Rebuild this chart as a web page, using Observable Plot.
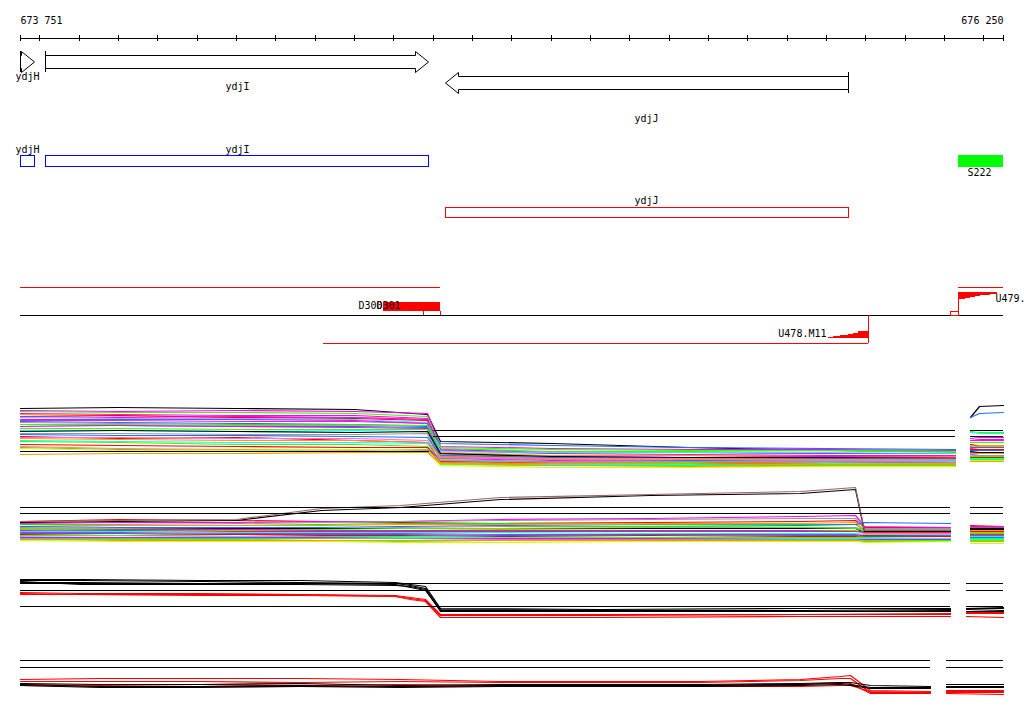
<!DOCTYPE html>
<html><head><meta charset="utf-8">
<script src="https://cdn.jsdelivr.net/npm/d3@7"></script>
<script src="https://cdn.jsdelivr.net/npm/@observablehq/plot@0.6"></script>
<style>
body{margin:0;background:#fff;}
#chart{position:relative;width:1024px;height:714px;overflow:hidden;background:#fff;}
#chart svg{position:absolute;left:0;}
</style></head><body><div id="chart"></div>
<script>
// ---------------- DATA ----------------
const regionStart = 673751, regionEnd = 676250;
const endLabels = ["673 751", "676 250"];
const tickPositions = [673751, 673800, 673900, 674000, 674100, 674200, 674300, 674400, 674500, 674600, 674700,
  674800, 674900, 675000, 675100, 675200, 675300, 675400, 675500, 675600, 675700, 675800, 675900, 676000,
  676100, 676200, 676250];

const genes = [
  {name: "ydjH", start: 673751, end: 673787, strand: "+"},
  {name: "ydjI", start: 673815, end: 674788, strand: "+"},
  {name: "ydjJ", start: 674831, end: 675856, strand: "-"}
];
const cdsBoxes = [
  {name: "ydjH", start: 673751, end: 673787, kind: "fwd"},
  {name: "ydjI", start: 673815, end: 674788, kind: "fwd"},
  {name: "ydjJ", start: 674831, end: 675856, kind: "rev"}
];
const sites = [{name: "S222", start: 676136, end: 676250}];

const transcriptFwd = [{start: 673751, end: 674819}, {start: 676136, end: 676250}];
const transcriptRev = [{start: 674521, end: 675907}];
const dRegions = [{name: "D300", start: 674610}, {name: "D301", start: 674656}];
const dBlock = {start: 674674, end: 674819};
const dTicks = [674776, 674819];
const u478 = {name: "U478.M11", tss: 675907};
const u478X = [675805, 675818, 675836, 675856, 675869, 675881, 675907];
const u478Cov = [1, 2, 3, 4, 5, 7, 7];
const u479 = {name: "U479.", tss: 676136};
const u479X = [676136, 676153, 676166, 676179, 676192, 676217, 676235];
const u479Cov = [7, 6, 5, 4, 3, 2, 2];
const smallBox = {start: 676115, end: 676136};

// expression panel 1 (positions; the right-hand block starts at index 10)
const p1X = [673751, 674000, 674300, 674600, 674785, 674820, 675100, 675450, 675800, 676128, 676166, 676190, 676250];
const p1Series = [
  ["black",   [67,68,67,66,61,34,32,28,25,24, 58,69,70]],
  ["magenta", [65,64,65,64,62,29,27,26,26,25, 37,36,36]],
  ["lime",    [64,63,63,62,59,27,24,24,25,23, 44,43,43]],
  ["magenta", [62,61,60,60,57,25,22,21,20,20, 35,35,35]],
  ["orange",  [61,60,58,58,56,23,20,20,19,19, 31,30,30]],
  ["red",     [59,60,58,57,55,22,18,18,17,18, 31,29,29]],
  ["magenta", [59,58,59,58,56,26,23,23,22,22, 39,38,38]],
  ["cyan",    [58,57,57,56,53,24,23,23,23,22, 43,42,42]],
  ["magenta", [56,56,56,55,52,20,19,18,19,18, 27,28,28]],
  ["purple",  [55,55,54,54,52,19,17,17,16,16, 23,23,23]],
  ["blue",    [54,53,52,51,49,32,30,28,27,26, 58,62,63]],
  ["gray",    [53,52,51,51,50,21,18,16,16,15, 29,28,28]],
  ["blue",    [51,50,49,49,48,18,16,15,15,14, 25,25,25]],
  ["lime",    [51,51,50,50,50,28,26,25,25,24, 33,33,33]],
  ["magenta", [49,50,49,48,47,17,15,14,14,15, 21,22,22]],
  ["lime",    [47,47,46,46,46,16,13,13,13,13, 19,19,19]],
  ["cyan",    [45,45,44,45,44,15,14,14,13,14, 20,20,20]],
  ["black",   [44,45,44,43,44,22,19,18,18,17, 24,23,23]],
  ["gray",    [42,42,41,41,42,14,13,12,12,13, 17,17,17]],
  ["blue",    [41,40,40,39,38,20,18,17,17,17, 28,28,28]],
  ["red",     [39,37,38,35,33,13,11,11,10,11, 18,18,18]],
  ["pink",    [38,38,37,37,35,18,16,16,15,15, 26,26,26]],
  ["orange",  [37,36,35,35,33,19,17,17,16,16, 30,29,29]],
  ["cyan",    [35,34,33,33,32,12,11,11,12,12, 17,17,17]],
  ["lime",    [34,33,31,31,29,11,10,10,11,11, 16,16,16]],
  ["red",     [31,30,29,28,28,14,12,12,13,13, 26,26,26]],
  ["orange",  [29,27,26,25,26,13,12,12,13,12, 22,22,22]],
  ["gray",    [28,26,25,24,25,15,14,14,14,13, 21,20,20]],
  ["yellow",  [27,25,25,26,24,10,8,8,9,9, 15,15,15]],
  ["orange",  [21,22,22,23,23,12,10,9,10,10, 14,14,14]]
];
const p1Refs = [
  {x1: 673751, x2: 674790, v: 24},
  {x1: 674800, x2: 676128, v: 45}, {x1: 674800, x2: 676128, v: 39},
  {x1: 676166, x2: 676250, v: 45}, {x1: 676166, x2: 676250, v: 39}
];

// expression panel 2 (right-hand block starts at index 11)
const p2X = [673751, 674000, 674300, 674515, 674717, 674971, 675353, 675734, 675874, 675897, 676115, 676166, 676250];
const p2Series = [
  ["red",     [39,41,40,39,38,37,38,39,40,33,33, 35,34]],
  ["magenta", [37,38,38,39,39,41,42,44,45,34,33, 34,34]],
  ["gray",    [36,36,37,38,39,40,41,42,42,32,32, 31,31]],
  ["green",   [36,35,35,36,37,37,36,36,36,31,31, 27,27]],
  ["orange",  [34,35,35,35,36,36,37,37,38,29,29, 30,30]],
  ["blue",    [34,33,33,33,34,35,34,35,36,38,37, 29,29]],
  ["gray",    [33,32,32,32,33,34,34,33,33,31,31, 28,28]],
  ["black",   [32,32,32,32,32,32,32,32,32,28,28, 31,31]],
  ["lime",    [32,32,31,31,32,32,33,33,32,30,30, 27,27]],
  ["orange",  [31,30,30,30,30,31,30,30,30,27,27, 28,28]],
  ["magenta", [30,31,31,30,30,30,30,30,29,28,28, 26,26]],
  ["dark",    [29,30,29,29,29,29,29,29,29,29,29, 26,26]],
  ["cyan",    [29,29,28,28,28,28,27,27,27,26,26, 24,24]],
  ["purple",  [28,28,27,27,27,26,26,26,26,25,25, 25,25]],
  ["blue",    [27,27,26,26,26,25,26,25,25,24,24, 23,23]],
  ["red",     [26,25,26,25,25,24,25,24,24,25,24, 29,29]],
  ["lime",    [25,25,24,24,24,23,23,23,23,23,22, 22,22]],
  ["cyan",    [24,23,24,23,23,23,22,22,22,22,22, 21,21]],
  ["magenta", [23,23,23,23,22,22,22,21,21,21,21, 20,20]],
  ["gray",    [22,22,22,22,22,21,21,21,21,20,20, 20,20]],
  ["lime",    [21,21,21,20,20,20,20,20,20,20,20, 19,19]],
  ["orange",  [21,20,20,20,19,20,20,20,20,19,19, 20,20]],
  ["yellow",  [20,19,19,19,18,18,19,19,19,18,19, 17,17]],
  ["black",   [38,39,40,50,53,61,65,67,71,29,29, 32,32]],
  ["brown",   [39,40,41,52,55,63,66,69,73,30,30, 33,33]]
];
const p2Refs = [
  {x1: 673751, x2: 676115, v: 53}, {x1: 673751, x2: 676115, v: 47},
  {x1: 676166, x2: 676250, v: 53}, {x1: 676166, x2: 676250, v: 47}
];

// expression panel 3 (right-hand block starts at index 11)
const p3X = [673751, 673904, 674209, 674463, 674704, 674742, 674781, 674819, 675226, 675734, 676115, 676156, 676250];
const p3Series = [
  ["black", [51,51,50,50,48,46,44,22,21,22,22, 24,23]],
  ["black", [50,50,49,48,47,45,42,21,20,20,21, 22,22]],
  ["black", [48,48,47,47,46,43,40,20,20,19,20, 21,20]],
  ["black", [49,46,46,46,45,44,41,19,19,19,19, 19,19]],
  ["red",   [38,37,37,36,35,33,31,16,16,16,17, 18,18]],
  ["red",   [37,36,36,36,34,32,30,15,15,16,16, 17,17]],
  ["red",   [36,36,35,35,34,31,29,13,13,14,14, 14,13]]
];
const p3Refs = [
  {x1: 673751, x2: 676115, v: 47}, {x1: 673751, x2: 676115, v: 40}, {x1: 673751, x2: 676115, v: 24},
  {x1: 676156, x2: 676250, v: 47}, {x1: 676156, x2: 676250, v: 40}, {x1: 676156, x2: 676250, v: 24}
];

// expression panel 4 (right-hand block starts at index 13)
const p4X = [673751, 673954, 674209, 674463, 674717, 674971, 675225, 675480, 675734, 675836, 675861, 675912, 676064, 676105, 676250];
const p4Series = [
  ["red",   [35,36,36,36,35,33,33,33,35,38,39,24,23, 24,24]],
  ["red",   [33,33,33,32,33,32,32,32,34,36,36,22,22, 22,22]],
  ["red",   [30,29,30,29,30,29,29,29,30,32,31,21,21, 21,20]],
  ["red",   [29,28,28,28,28,28,28,28,28,29,29,23,22, 23,23]],
  ["black", [31,30,30,31,29,30,30,30,31,32,32,29,28, 30,30]],
  ["black", [30,28,28,29,28,29,29,29,30,31,30,27,27, 28,28]],
  ["black", [29,27,27,28,27,28,28,28,29,30,29,26,26, 27,27]]
];
const p4Refs = [
  {x1: 673751, x2: 676064, v: 54}, {x1: 673751, x2: 676064, v: 47},
  {x1: 676105, x2: 676250, v: 54}, {x1: 676105, x2: 676250, v: 47}
];

// ---------------- STYLE / LAYOUT ----------------
const PALETTE = {black:"#000000", blue:"#1e6eff", lime:"#33ff00", green:"#00ee00", magenta:"#ff00ff",
  orange:"#ff9900", red:"#ff0000", cyan:"#00ffff", purple:"#cc33cc", gray:"#999999", yellow:"#ccff00",
  pink:"#ff66ff", brown:"#996666", dark:"#666666"};
const RED = "#ff0000";
const FONT = "DejaVu Sans Mono";
const xOpt = {domain: [regionStart, regionEnd], range: [20, 1003], round: true, axis: null};
const HEAD_BP = 33;
const LAY = {
  axisY: 38, tickHalf: 3, endLabelY: 20,
  fwd: {yc: 61.5, body: 6.5, head: 10.5}, rev: {yc: 82.5, body: 6.5, head: 10.5},
  geneLabelY: {ydjH: 76, ydjI: 86, ydjJ: 118},
  box: {fwd: [155, 166], rev: [207, 217]}, boxLabelY: {fwd: 149, rev: 200},
  site: [155, 167], siteLabelY: 172,
  trFwdY: 287, baseY: 315, trRevY: 343, dBlock: [302, 311], dLabelY: 305,
  u478Base: 338, u478LabelY: 333, u479Top: 292, u479LabelY: 298, smallBox: [311, 315]
};
// half-pixel insets keep 1px outlines crisp
const CRISP = {insetLeft: 0.5, insetRight: -0.5, insetTop: 0.5, insetBottom: -0.5};

const chartEl = document.getElementById("chart");
function place(svg, topPx) { svg.style.top = topPx + "px"; chartEl.appendChild(svg); }

// ---------------- TOP TRACKS ----------------
function arrowPoly(g) {
  const L = g.strand === "+" ? LAY.fwd : LAY.rev;
  const {yc, body, head} = L;
  let pts;
  if (g.strand === "+") {
    const b = Math.max(g.start, g.end - HEAD_BP);
    pts = [[g.start, yc-body],[b, yc-body],[b, yc-head],[g.end, yc],[b, yc+head],[b, yc+body],[g.start, yc+body],[g.start, yc-body]];
  } else {
    const b = Math.min(g.end, g.start + HEAD_BP);
    pts = [[g.end, yc-body],[b, yc-body],[b, yc-head],[g.start, yc],[b, yc+head],[b, yc+body],[g.end, yc+body],[g.end, yc-body]];
  }
  return pts.map(([x, y]) => ({x, y, id: g.name}));
}
const arrowPts = genes.flatMap(arrowPoly);
const bars = genes.filter(g => g.end - g.start > HEAD_BP).map(g => {
  const L = g.strand === "+" ? LAY.fwd : LAY.rev;
  return {x: g.strand === "+" ? g.start : g.end, y1: L.yc - L.head, y2: L.yc + L.head};
});
const geneLabels = genes.map(g => ({x: (g.start + g.end) / 2, y: LAY.geneLabelY[g.name], t: g.name}));
const boxes = cdsBoxes.map(b => ({...b, y1: LAY.box[b.kind][0], y2: LAY.box[b.kind][1],
  c: b.kind === "fwd" ? "#0000ff" : RED, ly: LAY.boxLabelY[b.kind]}));

const u478Area = u478X.map((x, i) => ({x, y1: LAY.u478Base, y2: LAY.u478Base - u478Cov[i]}));
const u479Area = u479X.map((x, i) => ({x, y1: LAY.u479Top, y2: LAY.u479Top + u479Cov[i]}));
const fwdLines = transcriptFwd.map(t => ({...t, y: LAY.trFwdY}));
const revLines = transcriptRev.map(t => ({...t, y: LAY.trRevY}));

const topSvg = Plot.plot({
  width: 1024, height: 395, margin: 0,
  x: xOpt, y: {domain: [0, 395], range: [0, 395], axis: null},
  color: {type: "identity"},
  style: {fontFamily: FONT, fontSize: "10px", background: "white"},
  marks: [
    Plot.ruleY([LAY.axisY], {x1: regionStart, x2: regionEnd, stroke: "black", strokeWidth: 1}),
    Plot.ruleX(tickPositions, {y1: LAY.axisY - LAY.tickHalf, y2: LAY.axisY + LAY.tickHalf, stroke: "black", strokeWidth: 1}),
    Plot.text([endLabels[0]], {x: regionStart, y: LAY.endLabelY, text: d => d, textAnchor: "start", fontSize: 10}),
    Plot.text([endLabels[1]], {x: regionEnd, y: LAY.endLabelY, text: d => d, textAnchor: "end", fontSize: 10}),
    Plot.line(arrowPts, {x: "x", y: "y", z: "id", stroke: "black", strokeWidth: 1, curve: "linear"}),
    Plot.ruleX(bars, {x: "x", y1: "y1", y2: "y2", stroke: "black", strokeWidth: 1}),
    Plot.text(geneLabels, {x: "x", y: "y", text: "t", fontSize: 10}),
    Plot.rect(boxes, {x1: "start", x2: "end", y1: "y1", y2: "y2", stroke: "c", fill: "none", strokeWidth: 1, ...CRISP}),
    Plot.text(boxes, {x: d => (d.start + d.end) / 2, y: "ly", text: "name", fontSize: 10}),
    Plot.rect(sites, {x1: "start", x2: "end", y1: LAY.site[0], y2: LAY.site[1], fill: "#00ff00"}),
    Plot.text(sites, {x: d => (d.start + d.end) / 2 - 3, y: LAY.siteLabelY, text: "name", fontSize: 10}),
    Plot.ruleY(fwdLines, {y: "y", x1: "start", x2: "end", stroke: RED, strokeWidth: 1}),
    Plot.ruleY(revLines, {y: "y", x1: "start", x2: "end", stroke: RED, strokeWidth: 1}),
    Plot.rect([dBlock], {x1: "start", x2: "end", y1: LAY.dBlock[0], y2: LAY.dBlock[1], fill: RED}),
    Plot.ruleX(dTicks, {y1: LAY.dBlock[1], y2: LAY.baseY, stroke: RED, strokeWidth: 1}),
    Plot.ruleY([LAY.baseY], {x1: regionStart, x2: regionEnd, stroke: "black", strokeWidth: 1}),
    Plot.text(dRegions, {x: "start", y: LAY.dLabelY, text: "name", textAnchor: "start", fontSize: 10}),
    Plot.areaY(u478Area, {x: "x", y1: "y1", y2: "y2", curve: "step-after", fill: RED}),
    Plot.ruleX([u478.tss], {y1: LAY.baseY, y2: LAY.trRevY, stroke: RED, strokeWidth: 1}),
    Plot.text([u478], {x: u478X[0], y: LAY.u478LabelY, text: "name", textAnchor: "end", dx: -2, fontSize: 10}),
    Plot.areaY(u479Area, {x: "x", y1: "y1", y2: "y2", curve: "step-after", fill: RED}),
    Plot.ruleX([u479.tss], {y1: LAY.u479Top, y2: LAY.baseY, stroke: RED, strokeWidth: 1}),
    Plot.text([u479], {x: u479X[u479X.length - 1], y: LAY.u479LabelY, text: "name", textAnchor: "start", dx: -2, fontSize: 10}),
    Plot.rect([smallBox], {x1: "start", x2: "end", y1: LAY.smallBox[0], y2: LAY.smallBox[1], stroke: RED, fill: "none", strokeWidth: 1, ...CRISP})
  ]
});
place(topSvg, 0);

// ---------------- EXPRESSION PANELS ----------------
// A NaN row before index `gap` breaks each line between the main block and the right-hand block.
function seriesRows(xs, gap, list) {
  const rows = [];
  list.forEach(([col, vals], i) => {
    vals.forEach((v, j) => {
      if (j === gap) rows.push({x: (xs[j] + xs[j - 1]) / 2, v: NaN, id: i, c: PALETTE[col]});
      rows.push({x: xs[j], v, id: i, c: PALETTE[col]});
    });
  });
  return rows;
}

function panel(xs, gap, list, refs, h, topPx, sw) {
  const svg = Plot.plot({
    width: 1024, height: h, margin: 0,
    x: xOpt, y: {domain: [0, h], range: [h, 0], axis: null},
    color: {type: "identity"},
    style: {background: "transparent"},
    marks: [
      Plot.line(seriesRows(xs, gap, list), {x: "x", y: "v", z: "id", stroke: "c", strokeWidth: sw, curve: "linear"}),
      Plot.ruleY(refs, {y: "v", x1: "x1", x2: "x2", stroke: "black", strokeWidth: 1})
    ]
  });
  place(svg, topPx);
}
panel(p1X, 10, p1Series, p1Refs, 80, 395, 1.2);
panel(p2X, 11, p2Series, p2Refs, 85, 475, 1.2);
panel(p3X, 11, p3Series, p3Refs, 70, 560, 1.2);
panel(p4X, 13, p4Series, p4Refs, 74, 640, 1.2);
</script></body></html>
